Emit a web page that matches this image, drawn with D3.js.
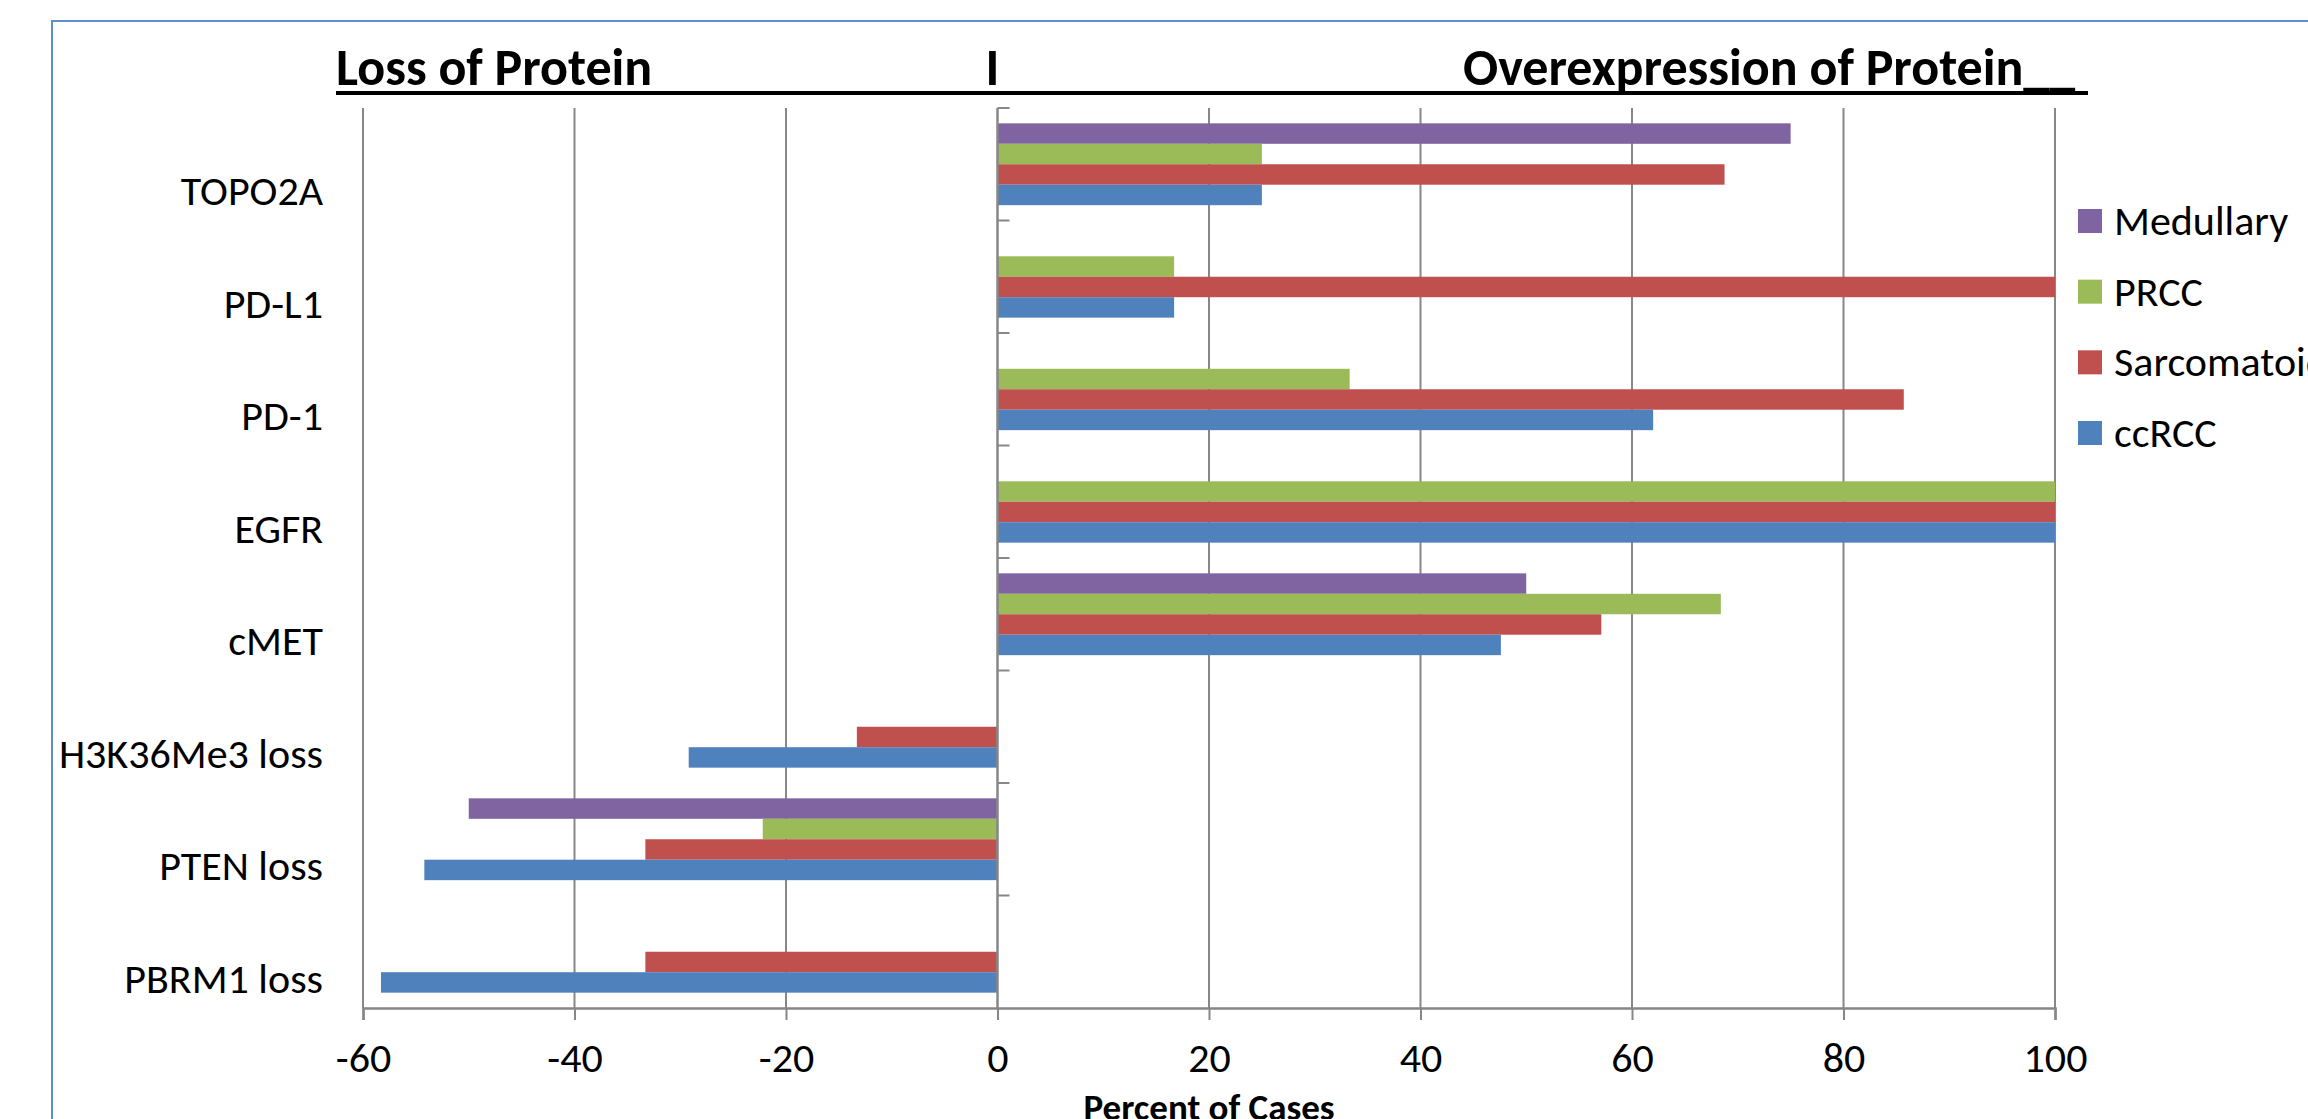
<!DOCTYPE html>
<html>
<head>
<meta charset="utf-8">
<script src="https://cdn.jsdelivr.net/npm/d3@7"></script>
<style>
  html, body { margin: 0; padding: 0; background: #ffffff; overflow: hidden; }
  svg { display: block; }
  text { font-family: Carlito, Calibri, "Open Sans", Lato, sans-serif; fill: #000; }
</style>
</head>
<body>
<script>
// Protein markers, listed from the top row of the chart to the bottom row
const categories = ["TOPO2A", "PD-L1", "PD-1", "EGFR", "cMET", "H3K36Me3 loss", "PTEN loss", "PBRM1 loss"];

// Tumour subtypes, in the order the bars stack inside a row (top to bottom)
const seriesNames = ["Medullary", "PRCC", "Sarcomatoid", "ccRCC"];
const seriesColors = ["#8064A2", "#9BBB59", "#C0504D", "#4F81BD"];

// Percent of cases; negative values are losses, null means no bar
const medullary   = [75,    null, null, null, 50,   null,  -50,   null];
const prcc        = [25,    16.7, 33.3, 100,  68.4, null,  -22.2, null];
const sarcomatoid = [68.75, 100,  85.7, 100,  57.1, -13.3, -33.3, -33.3];
const ccrcc       = [25,    16.7, 62,   100,  47.6, -29.2, -54.2, -58.3];

const xTicks = [-60, -40, -20, 0, 20, 40, 60, 80, 100];

const seriesValues = [medullary, prcc, sarcomatoid, ccrcc];

const W = 2308, H = 1119;
const plot = { left: 363, right: 2055, top: 108, bottom: 1008 };
const gridColor = "#878787";
const labelFont = "Carlito, Calibri, 'Open Sans', sans-serif";
const labelSize = 42;

const svg = d3.select("body").append("svg")
  .attr("width", W).attr("height", H)
  .attr("viewBox", `0 0 ${W} ${H}`);

svg.append("rect").attr("width", W).attr("height", H).attr("fill", "#fff");

// chart area frame, running off the right and bottom edges
svg.append("rect")
  .attr("x", 52).attr("y", 21)
  .attr("width", W + 40).attr("height", H + 40)
  .attr("fill", "none")
  .attr("stroke", "#5E8FCB")
  .attr("stroke-width", 2);

const x = d3.scaleLinear().domain([-60, 100]).range([plot.left, plot.right]);
const y = d3.scaleBand().domain(categories).range([plot.top, plot.bottom]).padding(0);
const ySub = d3.scaleBand().domain(seriesNames).range([0, y.bandwidth()])
  .paddingInner(0).paddingOuter(0.75);

// vertical gridlines (value axis)
svg.append("g").selectAll("line")
  .data(xTicks.filter(t => t !== 0))
  .join("line")
  .attr("x1", d => x(d)).attr("x2", d => x(d))
  .attr("y1", plot.top).attr("y2", plot.bottom)
  .attr("stroke", gridColor).attr("stroke-width", 2);

// bars
const rows = [];
seriesNames.forEach((s, si) => {
  categories.forEach((c, ci) => {
    const v = seriesValues[si][ci];
    if (v !== null && v !== undefined) rows.push({ series: s, cat: c, value: v, color: seriesColors[si] });
  });
});

svg.append("g").selectAll("rect")
  .data(rows)
  .join("rect")
  .attr("x", d => x(Math.min(0, d.value)))
  .attr("width", d => Math.abs(x(d.value) - x(0)))
  .attr("y", d => y(d.cat) + ySub(d.series))
  .attr("height", ySub.bandwidth())
  .attr("fill", d => d.color);

// bottom value axis
const xAxis = d3.axisBottom(x).tickValues(xTicks).tickSize(12).tickPadding(22)
  .tickFormat(d3.format("d"));
const gx = svg.append("g").attr("transform", `translate(0,${plot.bottom})`).call(xAxis);
gx.select(".domain").attr("stroke", gridColor).attr("stroke-width", 2.5);
gx.selectAll(".tick line").attr("stroke", gridColor).attr("stroke-width", 2);
gx.selectAll(".tick text")
  .attr("font-size", labelSize)
  .attr("font-family", labelFont)
  .attr("fill", "#000")
  .text(d => d < 0 ? "-" + Math.abs(d) : d);

// category axis at zero with tick marks on the band boundaries
const catAxis = svg.append("g");
catAxis.append("line")
  .attr("x1", x(0)).attr("x2", x(0))
  .attr("y1", plot.top).attr("y2", plot.bottom)
  .attr("stroke", gridColor).attr("stroke-width", 2.5);
catAxis.selectAll("line.tk")
  .data(categories.map(c => y(c)))
  .join("line").attr("class", "tk")
  .attr("x1", x(0)).attr("x2", x(0) + 12)
  .attr("y1", d => d).attr("y2", d => d)
  .attr("stroke", gridColor).attr("stroke-width", 2);

// category labels, right aligned to the left of the plot
svg.append("g").selectAll("text")
  .data(categories)
  .join("text")
  .attr("x", 323)
  .attr("y", d => y(d) + y.bandwidth() / 2 + 41)
  .attr("text-anchor", "end")
  .attr("font-size", labelSize)
  .text(d => d);

// axis title
svg.append("text")
  .attr("x", (plot.left + plot.right) / 2)
  .attr("y", 1120)
  .attr("text-anchor", "middle")
  .attr("font-size", 37)
  .attr("font-weight", "bold")
  .text("Percent of Cases");

// header: loss on the left, overexpression on the right, underlined
const header = svg.append("g").attr("font-weight", "bold").attr("font-size", 52);
header.append("text").attr("x", 336).attr("y", 85).text("Loss of Protein");
header.append("text").attr("x", x(0) - 5).attr("y", 85).attr("text-anchor", "middle").text("I");
header.append("text").attr("x", 1463).attr("y", 85).text("Overexpression of Protein__");
svg.append("line")
  .attr("x1", 336).attr("x2", 2088)
  .attr("y1", 93).attr("y2", 93)
  .attr("stroke", "#000").attr("stroke-width", 4);

// legend
const legendY = d3.scalePoint().domain(seriesNames).range([221, 433]);
const lg = svg.append("g").selectAll("g")
  .data(seriesNames.map((s, i) => ({ name: s, color: seriesColors[i] })))
  .join("g")
  .attr("transform", d => `translate(2078,${legendY(d.name)})`);
lg.append("rect").attr("x", 0).attr("y", -12).attr("width", 24).attr("height", 24)
  .attr("fill", d => d.color);
lg.append("text").attr("x", 36).attr("y", 14).attr("font-size", labelSize).text(d => d.name);
</script>
</body>
</html>
